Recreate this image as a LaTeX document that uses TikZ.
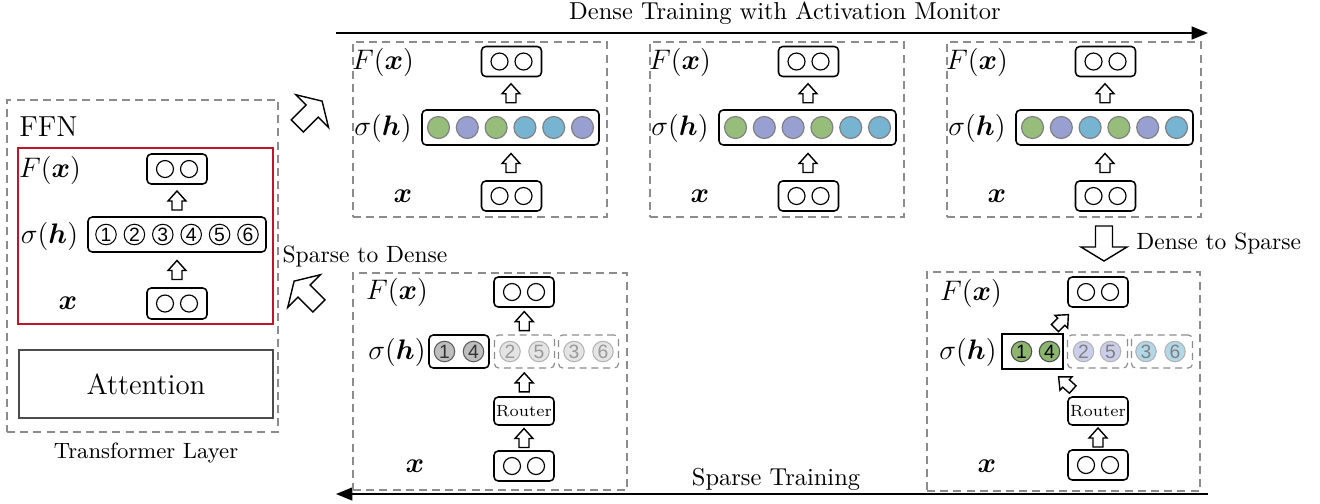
\documentclass[tikz,border=0pt]{standalone}
\usepackage{amsmath,bm}
\usepackage{fontspec}
\newfontfamily\digitfont{Liberation Sans}
\usetikzlibrary{calc,arrows.meta}
\definecolor{cgreen}{RGB}{150,189,122}
\definecolor{cpurple}{RGB}{152,160,210}
\definecolor{cblue}{RGB}{119,180,210}
\definecolor{lpurple}{RGB}{202,206,234}
\definecolor{lblue}{RGB}{178,216,232}
\definecolor{dgreen}{RGB}{140,182,110}
\definecolor{ffnred}{RGB}{190,20,45}
\definecolor{dashgray}{RGB}{140,140,140}
\definecolor{lgray}{RGB}{228,228,228}
\definecolor{mgray}{RGB}{190,190,190}
\def\PX{0.425pt}
\tikzset{
  panel/.style={draw=dashgray, dash pattern=on 3.4pt off 2.2pt, line width=0.5pt, inner sep=0pt},
  vbox/.style={draw, rounded corners=1.8pt, line width=0.65pt, inner sep=0pt, minimum width={60*\PX}, minimum height={30*\PX}},
  wbox/.style={draw, rounded corners=1.8pt, line width=0.65pt, inner sep=0pt, minimum width={178*\PX}, minimum height={35*\PX}},
  gbox/.style={draw, rounded corners=1.8pt, line width=0.65pt, inner sep=0pt, minimum width={60*\PX}, minimum height={33*\PX}},
  dgbox/.style={draw=dashgray, dash pattern=on 3pt off 2pt, rounded corners=1.8pt, line width=0.5pt, inner sep=0pt, minimum width={60*\PX}, minimum height={33*\PX}},
  ecirc/.style={circle, draw, line width=0.5pt, inner sep=0pt, minimum size={17*\PX}},
  ccirc/.style={circle, draw=black!50, line width=0.5pt, inner sep=0pt, minimum size={22*\PX}},
  ncirc/.style={circle, draw, line width=0.45pt, inner sep=0pt, minimum size={20.5*\PX}, font=\digitfont\fontsize{8.2}{9}\selectfont},
  lab/.style={inner sep=0pt, font=\fontsize{11.8}{14}\selectfont},
  xlab/.style={inner sep=0pt, font=\fontsize{13}{15}\selectfont},
  captext/.style={inner sep=0pt, font=\fontsize{10.4}{12}\selectfont},
  barrow/.style={draw, fill=white, line width=0.6pt, line join=miter},
  flow/.style={line width=0.8pt, -{Triangle[length=7pt,width=5.5pt]}}
}
\newcommand{\smallarr}[2]{\draw[barrow, shift={#1}, rotate=#2] (-9.5,-5) -- (-0.5,-5) -- (-0.5,-9) -- (9.5,0) -- (-0.5,9) -- (-0.5,5) -- (-9.5,5) -- cycle;}
\newcommand{\bigarr}[2]{\draw[barrow, shift={#1}, rotate=#2] (-17.5,-8.5) -- (3.5,-8.5) -- (3.5,-23) -- (17.5,0) -- (3.5,23) -- (3.5,8.5) -- (-17.5,8.5) -- cycle;}
\newcommand{\twocirc}[1]{\node[ecirc] (#1a) at ($(#1)+(-12,0)$) {}; \node[ecirc] (#1b) at ($(#1)+(12,0)$) {};}
\newcommand{\toppanel}[3]{%
  \node[panel, minimum width={254*\PX}, minimum height={175*\PX}] (#1) at ({#2+127},129.5) {};
  \node[vbox] (#1o) at ({#2+158.5},61.5) {};
  \node[wbox, minimum width={177*\PX}] (#1s) at ({#2+157.5},127.5) {};
  \node[vbox] (#1x) at ({#2+158.5},196) {};
  \node[lab] (#1Fl) at ({#2+30},62) {$F(\bm{x})$};
  \node[lab] (#1sl) at ({#2+30},128.5) {$\sigma(\bm{h})$};
  \node[xlab] (#1xl) at ({#2+50},196) {$\bm{x}$};
  \foreach \c [count=\i] in {#3} \node[ccirc, fill=\c] (#1c\i) at ($(#1s)+({(\i-3.5)*28.8},0)$) {};
  \twocirc{#1o}\twocirc{#1x}
  \smallarr{($(#1s.south)!0.5!(#1x.north)$)}{90}
  \smallarr{($(#1o.south)!0.5!(#1s.north)$)}{90}
}
\begin{document}
\begin{tikzpicture}[x=0.425pt, y=-0.425pt]
\useasboundingbox (0,0) rectangle (1320,503);

% ---------- Transformer layer (left)
\node[panel, minimum width={271*\PX}, minimum height={332*\PX}] (tl) at (142.5,266) {};
\node[draw=ffnred, line width=0.9pt, inner sep=0pt, minimum width={255*\PX}, minimum height={176*\PX}] (ffn) at (145.5,236) {};
\node[inner sep=0pt, anchor=base west, font=\fontsize{12.3}{14}\selectfont] (ffnt) at (19,136) {FFN};
\node[draw=black!70, line width=0.6pt, inner sep=0pt, minimum width={254*\PX}, minimum height={68*\PX}, font=\fontsize{12.3}{14}\selectfont] (att) at (146,384) {Attention};
\node[inner sep=0pt, font=\fontsize{9.4}{11}\selectfont] (tlt) at (146,453) {Transformer Layer};
\node[vbox] (lo) at (177,169) {};
\node[wbox] (ls) at (177,234.5) {};
\node[vbox, minimum height={31*\PX}] (lx) at (177,303.5) {};
\twocirc{lo}\twocirc{lx}
\foreach \i in {1,...,6} \node[ncirc] (ln\i) at ($(ls)+({(\i-3.5)*28.4},0)$) {\i};
\node[lab] (lFl) at (50,170) {$F(\bm{x})$};
\node[lab] (lsl) at (49.5,236) {$\sigma(\bm{h})$};
\node[xlab] (lxl) at (68,303.5) {$\bm{x}$};
\smallarr{($(ls.south)!0.5!(lx.north)$)}{90}
\smallarr{($(lo.south)!0.5!(ls.north)$)}{90}

% ---------- top flow
\coordinate (ta1) at (336,33);
\coordinate (ta2) at (1208,33);
\draw[flow] (ta1) -- (ta2);
\node[captext] (tat) at (785,13) {Dense Training with Activation Monitor};

\toppanel{p1}{353}{cgreen,cpurple,cgreen,cblue,cblue,cpurple}
\toppanel{p2}{650}{cgreen,cpurple,cpurple,cgreen,cblue,cblue}
\toppanel{p3}{947}{cgreen,cpurple,cblue,cgreen,cpurple,cblue}

% ---------- big arrows
\coordinate (ne) at (309.75,113.5);
\coordinate (nw) at (306.5,293.5);
\coordinate (ds) at (1104,243.5);
\bigarr{(ne)}{45}
\bigarr{(nw)}{135}
\bigarr{(ds)}{-90}
\node[inner sep=0pt, anchor=west, font=\fontsize{10}{12}\selectfont] (dst) at (1136,243) {Dense to Sparse};
\node[inner sep=0pt, font=\fontsize{10}{12}\selectfont] (sdt) at (365,256) {Sparse to Dense};

% ---------- bottom flow
\coordinate (ba1) at (1208,494);
\coordinate (ba2) at (336,494);
\draw[flow] (ba1) -- (ba2);
\node[captext] (bat) at (776,479) {Sparse Training};

% ---------- bottom-left panel
\node[panel, minimum width={274*\PX}, minimum height={217*\PX}] (b1) at (490,381.5) {};
\node[vbox] (b1o) at (524,292) {};
\node[gbox] (b1g1) at (459,351.5) {};
\node[dgbox] (b1g2) at (524.5,351.5) {};
\node[dgbox] (b1g3) at (588.5,351.5) {};
\node[vbox, minimum height={28*\PX}, font=\fontsize{6.9}{8}\selectfont] (b1r) at (524,411) {Router};
\node[vbox] (b1x) at (524,466) {};
\twocirc{b1o}\twocirc{b1x}
\node[lab] (b1Fl) at (397,292) {$F(\bm{x})$};
\node[lab] (b1sl) at (397,352) {$\sigma(\bm{h})$};
\node[xlab] (b1xl) at (415,466) {$\bm{x}$};
\node[ncirc, fill=mgray, draw=black!65, text=black!80] (b1n1) at ($(b1g1)+(-14.5,0)$) {1};
\node[ncirc, fill=mgray, draw=black!65, text=black!80] (b1n4) at ($(b1g1)+(14.5,0)$) {4};
\node[ncirc, fill=lgray, draw=black!30, text=black!40] (b1n2) at ($(b1g2)+(-14.5,0)$) {2};
\node[ncirc, fill=lgray, draw=black!30, text=black!40] (b1n5) at ($(b1g2)+(14.5,0)$) {5};
\node[ncirc, fill=lgray, draw=black!30, text=black!40] (b1n3) at ($(b1g3)+(-14.5,0)$) {3};
\node[ncirc, fill=lgray, draw=black!30, text=black!40] (b1n6) at ($(b1g3)+(14.5,0)$) {6};
\smallarr{($(b1g2.north)!0.5!(b1o.south)$)}{90}
\smallarr{($(b1r.north)!0.5!(b1g2.south)$)}{90}
\smallarr{($(b1x.north)!0.5!(b1r.south)$)}{90}

% ---------- bottom-right panel
\node[panel, minimum width={273*\PX}, minimum height={219*\PX}] (b2) at (1063.5,381.5) {};
\node[vbox] (b2o) at (1098,292) {};
\node[draw, line width=0.9pt, inner sep=0pt, minimum width={61*\PX}, minimum height={35*\PX}] (b2g1) at (1032.5,351.5) {};
\node[dgbox] (b2g2) at (1097.5,351.5) {};
\node[dgbox, minimum width={61*\PX}] (b2g3) at (1162,351.5) {};
\node[vbox, minimum height={28*\PX}, font=\fontsize{6.9}{8}\selectfont] (b2r) at (1098,411) {Router};
\node[vbox] (b2x) at (1098,465) {};
\twocirc{b2o}\twocirc{b2x}
\node[lab] (b2Fl) at (971,293) {$F(\bm{x})$};
\node[lab] (b2sl) at (968,352) {$\sigma(\bm{h})$};
\node[xlab] (b2xl) at (987,466) {$\bm{x}$};
\node[ncirc, fill=dgreen, draw=black!70] (b2n1) at ($(b2g1)+(-11,0)$) {1};
\node[ncirc, fill=dgreen, draw=black!70] (b2n4) at ($(b2g1)+(17,0)$) {4};
\node[ncirc, fill=lpurple, draw=black!30, text=black!50] (b2n2) at ($(b2g2)+(-14,0)$) {2};
\node[ncirc, fill=lpurple, draw=black!30, text=black!50] (b2n5) at ($(b2g2)+(13,0)$) {5};
\node[ncirc, fill=lblue, draw=black!30, text=black!50] (b2n3) at ($(b2g3)+(-16,0)$) {3};
\node[ncirc, fill=lblue, draw=black!30, text=black!50] (b2n6) at ($(b2g3)+(13,0)$) {6};
\smallarr{($($(b2g1.north east)!0.5!(b2o.south west)$)+(-4,1)$)}{45}
\smallarr{($(b2r.north west)!0.5!(b2g1.south east)$)}{138}
\smallarr{($(b2x.north)!0.5!(b2r.south)$)}{90}
\end{tikzpicture}
\end{document}
